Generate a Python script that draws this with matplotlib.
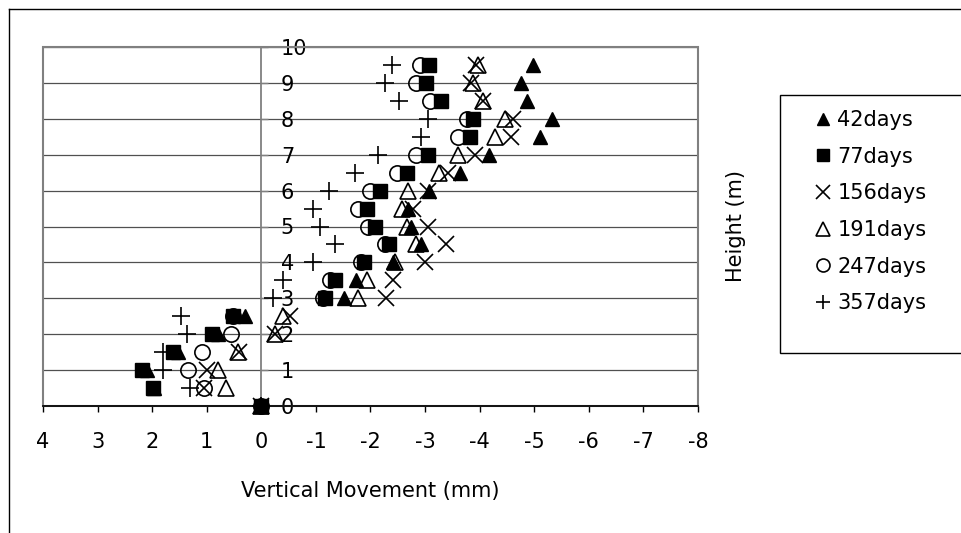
import matplotlib
matplotlib.use('Agg')
import matplotlib.pyplot as plt
from matplotlib.lines import Line2D
from matplotlib.patches import Rectangle

plt.rcParams['font.family'] = ['DejaVu Sans']
plt.rcParams['font.size'] = 15

# ---- data ----
heights = [0, 0.5, 1, 1.5, 2, 2.5, 3, 3.5, 4, 4.5,
           5, 5.5, 6, 6.5, 7, 7.5, 8, 8.5, 9, 9.5]
series_labels = ['42days', '77days', '156days', '191days', '247days', '357days']
d42 = [0, 1.97, 2.10, 1.53, 0.80, 0.30, -1.52, -1.74, -2.41, -2.93,
       -2.75, -2.69, -3.07, -3.64, -4.18, -5.11, -5.33, -4.86, -4.75, -4.97]
d77 = [0, 1.99, 2.18, 1.62, 0.91, 0.52, -1.16, -1.35, -1.88, -2.34,
       -2.08, -1.93, -2.17, -2.66, -3.06, -3.82, -3.88, -3.30, -3.02, -3.07]
d156 = [0, 1.05, 1.00, 0.41, -0.25, -0.52, -2.29, -2.41, -3.00, -3.39,
        -3.06, -2.78, -3.05, -3.42, -3.91, -4.58, -4.61, -4.06, -3.85, -3.93]
d191 = [0, 0.64, 0.79, 0.42, -0.25, -0.40, -1.77, -1.93, -2.45, -2.84,
        -2.66, -2.57, -2.69, -3.25, -3.60, -4.28, -4.46, -4.06, -3.88, -3.97]
d247 = [0, 1.05, 1.34, 1.08, 0.56, 0.52, -1.13, -1.25, -1.83, -2.26,
        -1.96, -1.77, -1.99, -2.48, -2.84, -3.60, -3.76, -3.09, -2.84, -2.90]
d357 = [0, 1.31, 1.81, 1.80, 1.36, 1.48, -0.22, -0.40, -0.94, -1.35,
        -1.08, -0.94, -1.24, -1.71, -2.14, -2.93, -3.06, -2.52, -2.26, -2.40]
x_ticks = [4, 3, 2, 1, 0, -1, -2, -3, -4, -5, -6, -7, -8]
y_ticks = [0, 1, 2, 3, 4, 5, 6, 7, 8, 9, 10]

W, H = 962, 533
fig = plt.figure(figsize=(W / 100, H / 100), dpi=100)

px_l, px_r, px_t, px_b = 43, 698, 47, 406
ax = fig.add_axes([px_l / W, 1 - px_b / H, (px_r - px_l) / W, (px_b - px_t) / H])

styles = [
    dict(marker='^', ms=10, mfc='black', mec='black', mew=1.0),
    dict(marker='s', ms=9.5, mfc='black', mec='black', mew=1.0),
    dict(marker='x', ms=12, mec='black', mew=1.2),
    dict(marker='^', ms=12, mfc='none', mec='black', mew=1.2),
    dict(marker='o', ms=11, mfc='none', mec='black', mew=1.2),
    dict(marker='+', ms=12.5, mec='black', mew=1.2),
]
all_data = [d42, d77, d156, d191, d247, d357]
handles = []
for data, st, lab in zip(all_data, styles, series_labels):
    ln, = ax.plot(data, heights, linestyle='none', label=lab, clip_on=False,
                  zorder=3, **st)
    handles.append(ln)

ax.set_xlim(4, -8)
ax.set_ylim(0, 10)
ax.set_xticks(x_ticks)
ax.set_xticklabels([str(v) for v in x_ticks])
ax.set_yticks(y_ticks)
ax.set_yticklabels([str(v) for v in y_ticks])

# gridlines
ax.yaxis.grid(True, color='#505050', lw=0.9)
ax.set_axisbelow(True)

# spines: y axis at x=0 with labels on its right
ax.spines['left'].set_visible(False)
ax.spines['top'].set_visible(False)
ax.yaxis.tick_right()
ax.spines['right'].set_position(('data', 0))
ax.spines['right'].set_color('#808080')
ax.spines['right'].set_linewidth(1.3)
ax.spines['bottom'].set_color('black')
ax.spines['bottom'].set_linewidth(1.2)
ax.spines['bottom'].set_zorder(2.5)

ax.tick_params(axis='y', direction='out', length=5, width=1, color='#808080',
               labelcolor='black', pad=9, labelsize=15)
ax.tick_params(axis='x', direction='out', length=4, width=1, color='black',
               labelcolor='black', pad=15, labelsize=15)

# plot area border (gray)
ax.add_patch(Rectangle((0, 0), 1, 1, transform=ax.transAxes, fill=False,
                       edgecolor='#808080', lw=1.5, clip_on=False, zorder=2))

# axis labels
ax.set_xlabel('Vertical Movement (mm)', fontsize=15)
ax.xaxis.label.set_va('center')
ax.xaxis.set_label_coords(0.5, -(491 - px_b) / (px_b - px_t))
ax.yaxis.set_label_position('right')
ax.set_ylabel('Height (m)', fontsize=15, rotation=90)
ax.yaxis.label.set_va('center')
ax.yaxis.label.set_ha('center')
ax.yaxis.set_label_coords((736 - px_l) / (px_r - px_l), 0.5)

# legend
leg = fig.legend(handles=handles, labels=series_labels, loc='upper left',
                 bbox_to_anchor=(812 / W, 1 - 110 / H), frameon=False,
                 fontsize=15, markerscale=0.85, handlelength=1.06,
                 handletextpad=0.15, labelspacing=0.8, borderpad=0,
                 borderaxespad=0)
fig.add_artist(Rectangle((780 / W, 1 - 353 / H), (962 - 780) / W, (353 - 95) / H,
                         transform=fig.transFigure, fill=False,
                         edgecolor='black', lw=1.0))

# outer chart border
fig.add_artist(Line2D([9 / W, 9 / W], [0, 1 - 9 / H], color='black', lw=1.0,
                      transform=fig.transFigure))
fig.add_artist(Line2D([9 / W, 1], [1 - 9 / H, 1 - 9 / H], color='black', lw=1.0,
                      transform=fig.transFigure))

fig.savefig('out.png', dpi=100)
